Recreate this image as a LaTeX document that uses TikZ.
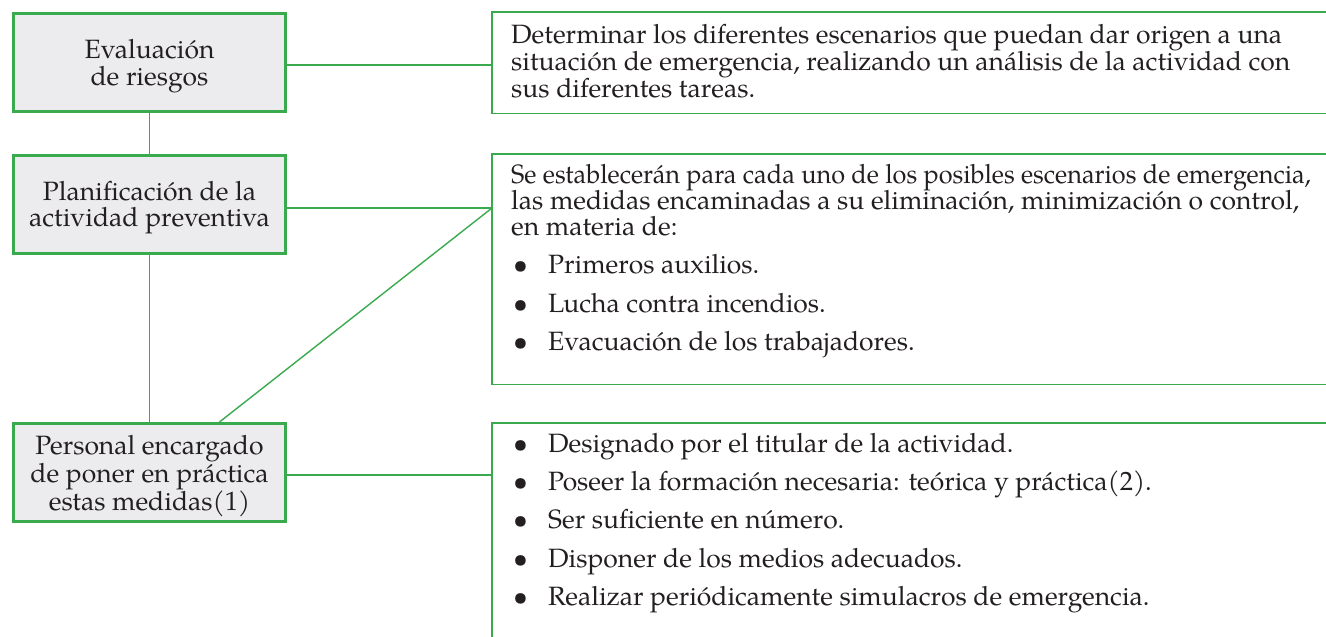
\documentclass[tikz,border=0pt]{standalone}
\usepackage{fontspec}
\setmainfont{TeX Gyre Pagella}
\definecolor{gr}{RGB}{58,170,79}
\definecolor{bx}{RGB}{236,236,238}
\definecolor{tx}{RGB}{35,31,32}
\newcommand{\bul}{\makebox[35pt][l]{\textbullet}}
\begin{document}
\begin{tikzpicture}[x=1pt,y=-1pt,
  lbox/.style={draw=gr,line width=3pt,fill=bx,minimum width=272pt,minimum height=98pt,inner sep=0pt},
  ltext/.style={align=center,inner sep=0pt,text=tx,font=\fontsize{26.5}{26.5}\selectfont,yshift=-3.5pt},
  conn/.style={draw=gr,line width=1.4pt},
  panel/.style={inner sep=0pt,minimum width=834pt},
  ln/.style={anchor=base west,inner sep=0pt,text=tx,font=\fontsize{26.5}{26.5}\selectfont},
]
\useasboundingbox (0,0) rectangle (1326,637);
% left boxes
\node[lbox] (b1) at (149.5,62.5) {};
\node[lbox] (b2) at (149.5,204) {};
\node[lbox] (b3) at (149.5,472.5) {};
\node[ltext] (b1t) at (b1.center) {Evaluación\\de riesgos};
\node[ltext] (b2t) at (b2.center) {Planificación de la\\actividad preventiva};
\node[ltext] (b3t) at (b3.center) {Personal encargado\\de poner en práctica\\estas medidas(1)};
% right panels (invisible frames)
\node[panel,minimum height=101pt] (p1) at (909,62.5) {};
\node[panel,minimum height=230pt] (p2) at (909,269) {};
\node[panel,minimum height=214pt] (p3) at (909,530) {};
\draw[conn] (p1.north east) -| (p1.south west) -- (p1.south east);
\draw[conn] (p2.north east) -| (p2.south west) -- (p2.south east);
\draw[conn] (p3.north east) -| (p3.south west);
\coordinate (j1) at (492,65);
\coordinate (j2) at (492,208);
\coordinate (j3) at (492,475);
% connectors
\draw[conn] (b1.south) -- (b2.north);
\draw[conn] (b2.south) -- (b3.north);
\draw[conn] (b1.east |- j1) -- (j1);
\draw[conn] (b2.east |- j2) -- (j2);
\draw[conn] (b3.east |- j3) -- (j3);
\draw[conn] ([xshift=70pt]b3.north) -- (j2);
% panel 1 text
\node[ln] (t1a) at (511,43) {Determinar los diferentes escenarios que puedan dar origen a una};
\node[ln] (t1b) at (511,70) {situación de emergencia, realizando un análisis de la actividad con};
\node[ln] (t1c) at (511,97) {sus diferentes tareas.};
% panel 2 text
\node[ln] (t2a) at (511,183) {\scalebox{0.955}[1]{Se establecerán para cada uno de los posibles escenarios de emergencia,}};
\node[ln] (t2b) at (511,209) {las medidas encaminadas a su eliminación, minimización o control,};
\node[ln] (t2c) at (511,235) {en materia de:};
\node[ln] (t2d) at (513,273) {\bul Primeros auxilios.};
\node[ln] (t2e) at (513,312) {\bul Lucha contra incendios.};
\node[ln] (t2f) at (513,350) {\bul Evacuación de los trabajadores.};
% panel 3 text
\node[ln] (t3a) at (513,452) {\bul Designado por el titular de la actividad.};
\node[ln] (t3b) at (513,490) {\bul Poseer la formación necesaria: teórica y práctica(2).};
\node[ln] (t3c) at (513,528) {\bul Ser suficiente en número.};
\node[ln] (t3d) at (513,567) {\bul Disponer de los medios adecuados.};
\node[ln] (t3e) at (513,605) {\bul Realizar periódicamente simulacros de emergencia.};
\end{tikzpicture}
\end{document}
